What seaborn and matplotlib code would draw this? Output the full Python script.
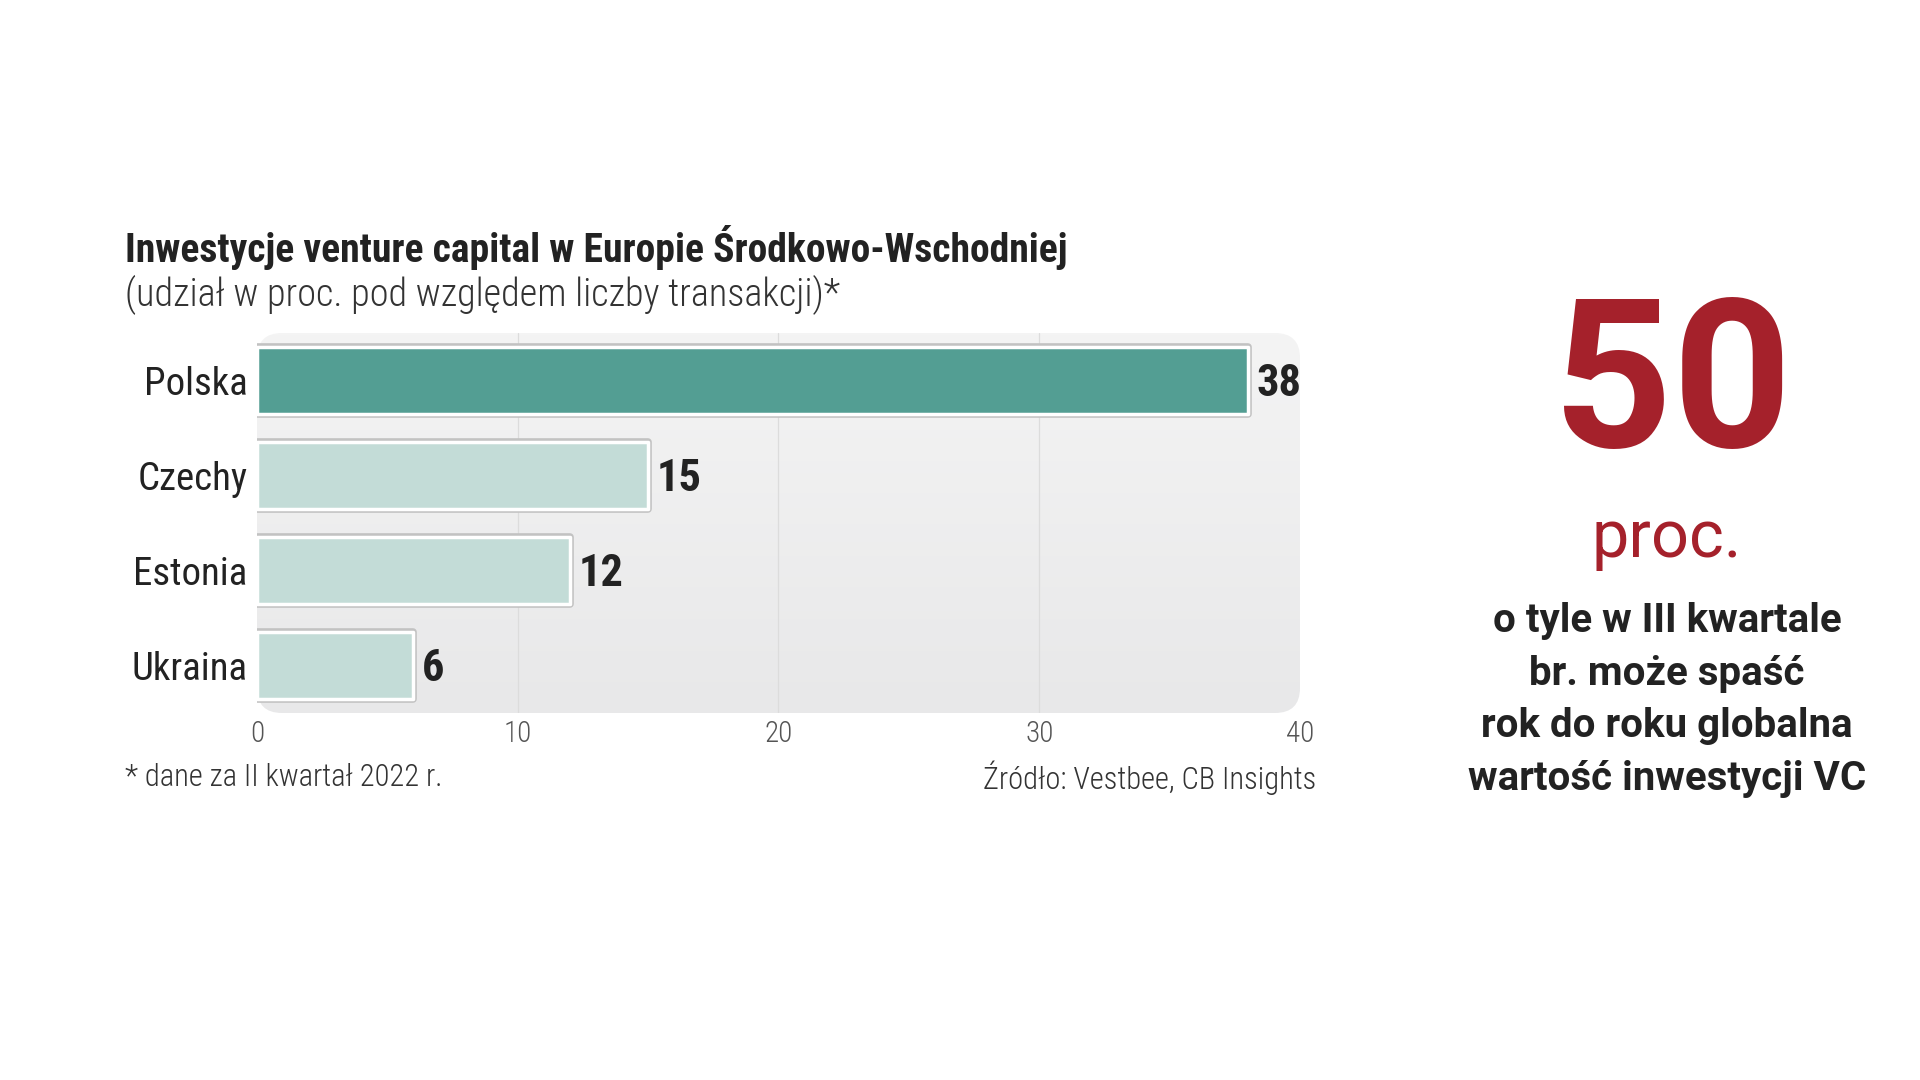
import numpy as np
import pandas as pd
import seaborn as sns
import matplotlib
matplotlib.use("Agg")
import matplotlib.pyplot as plt
import matplotlib.patheffects as pe
from matplotlib.patches import FancyBboxPatch
from matplotlib import font_manager

# ---------------- data ----------------
countries = ["Polska", "Czechy", "Estonia", "Ukraina"]
shares = [38, 15, 12, 6]
bar_colors = ["#539e93", "#c3dcd7", "#c3dcd7", "#c3dcd7"]
x_ticks = [0, 10, 20, 30, 40]

title = "Inwestycje venture capital w Europie Środkowo-Wschodniej"
subtitle = "(udział w proc. pod względem liczby transakcji)*"
footnote = "* dane za II kwartał 2022 r."
source = "Źródło: Vestbee, CB Insights"
big_number = "50"
big_unit = "proc."
note_lines = ["o tyle w III kwartale", "br. może spaść", "rok do roku globalna", "wartość inwestycji VC"]

# ---------------- fonts ----------------
names = {f.name for f in font_manager.fontManager.ttflist}
COND = next((n for n in ["Roboto Condensed", "Liberation Sans Narrow", "Open Sans Condensed",
                         "Noto Sans Condensed", "DejaVu Sans Condensed"] if n in names), "Roboto")
FAM = [COND, "Roboto", "DejaVu Sans"]
WIDE = ["Roboto", "DejaVu Sans"]

sns.set_theme(style="white")
plt.rcParams["font.family"] = FAM
plt.rcParams["font.stretch"] = "condensed"

W, H = 1920, 1080
fig = plt.figure(figsize=(19.2, 10.8), dpi=100)
fig.patch.set_facecolor("white")

rect = [257 / W, 1 - 713 / H, 1043 / W, 380 / H]

# background panel with vertical gradient and rounded corners
bg = fig.add_axes(rect, zorder=0)
bg.set_axis_off()
grad = np.linspace(0, 1, 256).reshape(-1, 1)
top = np.array([0.957, 0.957, 0.957])
bot = np.array([0.910, 0.910, 0.914])
img = top[None, None, :] * (1 - grad[..., None]) + bot[None, None, :] * grad[..., None]
im = bg.imshow(img, extent=[0, 1, 0, 1], aspect="auto", transform=bg.transAxes, origin="upper")
clip = FancyBboxPatch((0, 0), 1, 1, boxstyle="round,pad=0,rounding_size=0.024",
                      mutation_aspect=1043 / 380, transform=bg.transAxes,
                      facecolor="none", edgecolor="none")
bg.add_patch(clip)
im.set_clip_path(clip)
bg.set_xlim(0, 1)
bg.set_ylim(0, 1)

# main axes
ax = fig.add_axes(rect, zorder=1)
ax.set_facecolor("none")
df = pd.DataFrame({"country": countries, "share": shares})
sns.barplot(data=df, x="share", y="country", hue="country", palette=bar_colors,
            legend=False, width=0.7, edgecolor="white", linewidth=2.5,
            saturation=1, ax=ax)

for p in ax.patches:
    p.set_joinstyle("round")
    p.set_path_effects([pe.Stroke(linewidth=5.5, foreground="#c2c2c2", joinstyle="round"),
                        pe.Normal()])

for c in ax.containers:
    labels = ax.bar_label(c, fmt="%d", padding=6, fontsize=32, fontweight="bold",
                          color="#222222", family=FAM)
    for t in labels:
        t.xyann = (6, -2.5)

ax.set_xlim(0, 40)
ax.set_xticks(x_ticks)
ax.set_xticklabels([str(t) for t in x_ticks])
ax.set_xlabel("")
ax.set_ylabel("")
ax.grid(axis="x", color="#dcdcdc", linewidth=0.9)
ax.grid(axis="y", visible=False)
ax.set_axisbelow(True)
gl = ax.get_xgridlines()
gl[0].set_visible(False)
gl[-1].set_visible(False)
for s in ax.spines.values():
    s.set_visible(False)
ax.tick_params(axis="x", length=0, labelsize=21, labelcolor="#555555", pad=5)
ax.tick_params(axis="y", length=0, labelsize=28, labelcolor="#222222", pad=7)
for t in ax.get_xticklabels():
    t.set_fontweight("light")

# texts
def fx(px):
    return px / W

def fy(py):
    return 1 - py / H

fig.text(fx(125), fy(247), title, fontsize=28.5, fontweight="bold", color="#222222",
         va="center", ha="left")
fig.text(fx(125), fy(295), subtitle, fontsize=27.5, fontweight="light", color="#333333",
         va="center", ha="left")
fig.text(fx(125), fy(778), footnote, fontsize=22, fontweight="light", color="#333333",
         va="center", ha="left")
fig.text(fx(1316), fy(778), source, fontsize=22, fontweight="light", color="#333333",
         va="center", ha="right")

fig.text(fx(1673), fy(390), big_number, fontsize=150, fontweight="bold", color="#a5212b",
         va="center", ha="center", family=WIDE, fontstretch="normal")
fig.text(fx(1667), fy(539), big_unit, fontsize=48, fontweight="normal", color="#a5212b",
         va="center", ha="center", family=WIDE, fontstretch="normal")
for i, line in enumerate(note_lines):
    fig.text(fx(1667), fy(621 + i * 52.7), line, fontsize=29, fontweight="bold",
             color="#222222", va="center", ha="center", family=WIDE, fontstretch="normal")

fig.savefig("out.png", dpi=100, facecolor="white")
